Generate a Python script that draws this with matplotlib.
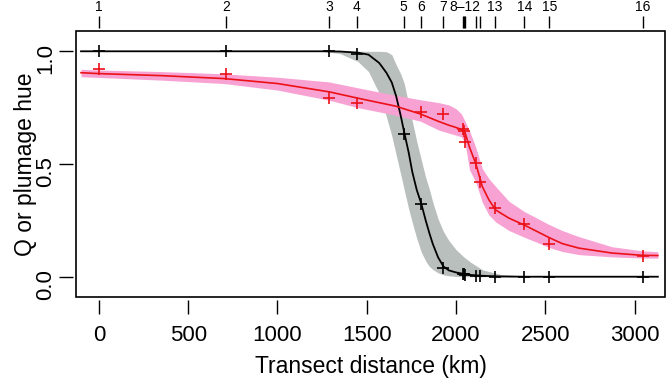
import matplotlib
matplotlib.use("Agg")
import matplotlib.pyplot as plt
import numpy as np
from matplotlib.patches import Rectangle

plt.rcParams['font.family'] = ['Liberation Sans', 'DejaVu Sans']

# sampling sites along the transect (km) and their labels
site_km = [0, 713, 1290, 1445, 1706, 1804, 1929, 2038, 2045, 2052, 2110, 2134, 2216, 2382, 2523, 3046]
site_lab = ['1', '2', '3', '4', '5', '6', '7', '', '', '8\u201312', '', '', '13', '14', '15', '16']

# observed values per site
q_obs = [1.0, 1.0, 1.0, 0.99, 0.631, 0.322, 0.038, 0.012, 0.010, 0.008, 0.002, 0.001, 0.0, 0.0, 0.0, 0.0]
hue_obs = [0.923, 0.901, 0.795, 0.771, np.nan, 0.729, 0.723, 0.655, 0.648, 0.596, 0.506, 0.422, 0.305, 0.236, 0.145, 0.090]

# fitted cline for Q (ancestry) with its band
q_x = [-100, 1250, 1350, 1450, 1510, 1570, 1610, 1640, 1665, 1690, 1710, 1735, 1755, 1780, 1805,
       1830, 1850, 1870, 1900, 1930, 1960, 2000, 2040, 2080, 2150, 2250, 2400, 3130]
q_fit = [1.0, 1.0, 0.999, 0.994, 0.985, 0.948, 0.905, 0.862, 0.80, 0.715, 0.64, 0.55, 0.465, 0.385, 0.325,
         0.25, 0.195, 0.145, 0.085, 0.045, 0.028, 0.019, 0.013, 0.008, 0.004, 0.001, 0.0, 0.0]
q_hi = [1.0, 1.0, 1.0, 1.0, 1.0, 1.0, 0.998, 0.985, 0.94, 0.90, 0.857, 0.765, 0.69, 0.60, 0.52,
        0.44, 0.39, 0.33, 0.255, 0.20, 0.16, 0.12, 0.09, 0.065, 0.03, 0.01, 0.002, 0.0]
q_lo = [1.0, 1.0, 0.99, 0.955, 0.91, 0.813, 0.71, 0.625, 0.54, 0.455, 0.385, 0.30, 0.24, 0.17, 0.11,
        0.07, 0.046, 0.032, 0.017, 0.008, 0.004, 0.001, 0.0, 0.0, 0.0, 0.0, 0.0, 0.0]

# fitted cline for plumage hue with its band
h_x = [-100, 0, 350, 700, 1000, 1290, 1450, 1660, 1800, 1905, 1960, 2000, 2030, 2050, 2075, 2110,
       2147, 2184, 2222, 2296, 2380, 2445, 2520, 2594, 2687, 2873, 3041, 3130]
h_fit = [0.905, 0.901, 0.892, 0.879, 0.857, 0.820, 0.792, 0.757, 0.722, 0.688, 0.672, 0.662, 0.653, 0.640, 0.575, 0.503,
         0.400, 0.341, 0.296, 0.260, 0.230, 0.204, 0.174, 0.147, 0.127, 0.105, 0.095, 0.094]
h_hi = [0.920, 0.917, 0.910, 0.900, 0.885, 0.864, 0.838, 0.805, 0.785, 0.772, 0.762, 0.745, 0.722, 0.690, 0.648, 0.575,
        0.480, 0.435, 0.400, 0.335, 0.290, 0.263, 0.232, 0.205, 0.178, 0.133, 0.115, 0.111]
h_lo = [0.887, 0.884, 0.872, 0.857, 0.828, 0.783, 0.750, 0.717, 0.690, 0.650, 0.637, 0.628, 0.620, 0.595, 0.475, 0.420,
        0.330, 0.274, 0.243, 0.205, 0.176, 0.155, 0.130, 0.112, 0.098, 0.088, 0.083, 0.082]

fig = plt.figure(figsize=(6.69, 3.86), dpi=100)
ax = fig.add_axes([76 / 669, 1 - 297 / 386, 589 / 669, 266 / 386])

ax.fill_between(q_x, q_lo, q_hi, color='#b9bfbc', lw=0, zorder=1)
ax.fill_between(h_x, h_lo, h_hi, color='#f8a2d3', lw=0, zorder=2)
ax.plot(q_x, q_fit, color='black', lw=1.3, zorder=3)
ax.plot(h_x, h_fit, color='#ec1118', lw=1.2, zorder=4)
ax.plot(site_km, q_obs, ls='none', marker='+', ms=9, mew=1.2, color='black', zorder=5)
ax.plot(site_km, hue_obs, ls='none', marker='+', ms=9, mew=1.2, color='#ec1118', zorder=6)

ax.set_xlim(-128, 3170)
ax.set_ylim(-0.09, 1.09)
ax.set_xticks([0, 500, 1000, 1500, 2000, 2500, 3000])
ax.set_yticks([0.0, 0.5, 1.0])
ax.set_yticklabels(['0.0', '0.5', '1.0'])
ax.set_xlabel('Transect distance (km)', fontsize=16.5, labelpad=7)
ax.set_ylabel('Q or plumage hue', fontsize=16.5, labelpad=-1)
ax.tick_params(direction='out', length=10, width=1.0, labelsize=16)
ax.tick_params(axis='x', pad=8)
ax.tick_params(axis='y', pad=2, labelrotation=90)
for t in ax.get_yticklabels():
    t.set_va('center')

ax2 = ax.twiny()
ax2.set_xlim(ax.get_xlim())
ax2.set_xticks(site_km)
ax2.set_xticklabels(site_lab)
ax2.tick_params(direction='out', length=9, width=1.0, labelsize=10, pad=1)

for a in (ax, ax2):
    for s in a.spines.values():
        s.set_position(('outward', 2))
        s.set_visible(False)
ax.add_patch(Rectangle((0, 0), 1, 1, transform=ax.transAxes, fill=False,
                       lw=1.2, ec='black', clip_on=False, zorder=10))

fig.savefig('out.png', dpi=100)
